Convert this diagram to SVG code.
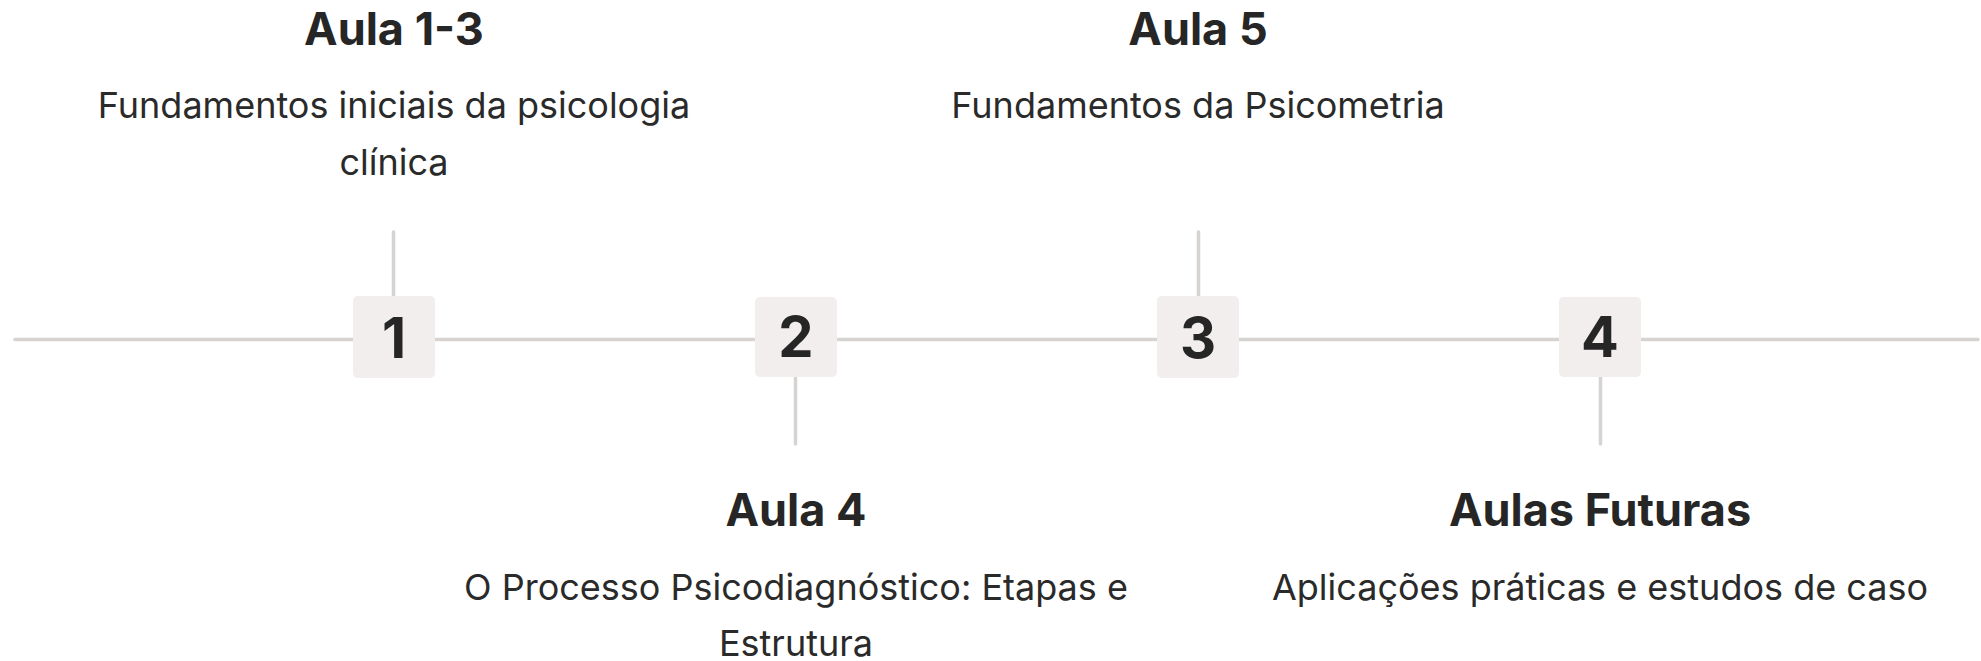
<svg xmlns="http://www.w3.org/2000/svg" width="1981" height="661" viewBox="0 0 1981 661">
<style>
.ln{stroke:#d6d3d1;stroke-width:3.5;stroke-linecap:round;fill:none}
.box{fill:#f1eeed}
.num{font-family:Inter,"Liberation Sans",sans-serif;font-weight:700;font-size:56px;fill:#262626;text-anchor:middle}
.ttl{font-family:Inter,"Liberation Sans",sans-serif;font-weight:700;font-size:45px;fill:#262626;text-anchor:middle}
.dsc{font-family:Inter,"Liberation Sans",sans-serif;font-weight:400;font-size:36px;fill:#2a2a2a;text-anchor:middle}
</style>
<rect width="1981" height="661" fill="#ffffff"/>
<g id="connectors">
<line class="ln" x1="15" y1="339.5" x2="1978" y2="339.5"/>
<line class="ln" x1="393.5" y1="232" x2="393.5" y2="296"/>
<line class="ln" x1="795.5" y1="377" x2="795.5" y2="444"/>
<line class="ln" x1="1198.5" y1="232" x2="1198.5" y2="296"/>
<line class="ln" x1="1600.5" y1="377" x2="1600.5" y2="444"/>
</g>
<g id="node1">
<rect class="box" x="353" y="296" width="82" height="82" rx="5"/>
<text class="num" x="394" y="357.5">1</text>
<text class="ttl" x="394" y="44.5">Aula 1-3</text>
<text class="dsc" x="394" y="118">Fundamentos iniciais da psicologia</text>
<text class="dsc" x="394" y="175">clínica</text>
</g>
<g id="node2">
<rect class="box" x="755" y="297" width="82" height="80" rx="5"/>
<text class="num" x="796" y="357">2</text>
<text class="ttl" x="796" y="526">Aula 4</text>
<text class="dsc" x="796" y="600">O Processo Psicodiagnóstico: Etapas e</text>
<text class="dsc" x="796" y="656">Estrutura</text>
</g>
<g id="node3">
<rect class="box" x="1157" y="296" width="82" height="82" rx="5"/>
<text class="num" x="1198" y="357.5">3</text>
<text class="ttl" x="1198" y="44.5">Aula 5</text>
<text class="dsc" x="1198" y="118">Fundamentos da Psicometria</text>
</g>
<g id="node4">
<rect class="box" x="1559" y="297" width="82" height="80" rx="5"/>
<text class="num" x="1600" y="357">4</text>
<text class="ttl" x="1600" y="526">Aulas Futuras</text>
<text class="dsc" x="1600" y="600">Aplicações práticas e estudos de caso</text>
</g>
</svg>
